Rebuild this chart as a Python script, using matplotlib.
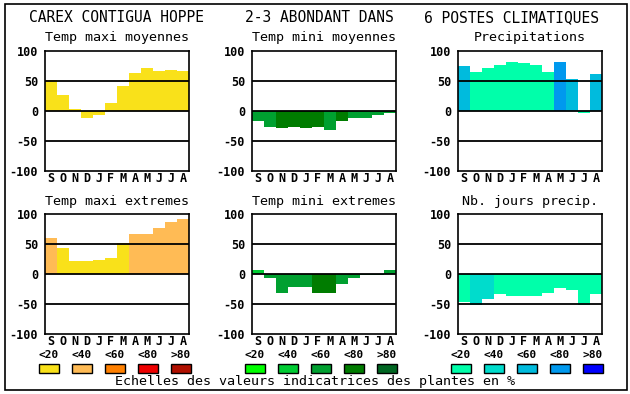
import numpy as np
import matplotlib
matplotlib.use('Agg')
import matplotlib.pyplot as plt
from matplotlib.patches import Rectangle

# Mois (septembre -> aout)
mois = ['S', 'O', 'N', 'D', 'J', 'F', 'M', 'A', 'M', 'J', 'J', 'A']

# Valeurs indicatrices par mois (echelle -100..100)
tmax_moy = [51, 27, 4, -11, -6, 13, 42, 63, 71, 67, 69, 67]
tmin_moy = [-16, -26, -28, -26, -28, -26, -31, -16, -12, -12, -6, -4]
precip = [75, 65, 72, 77, 82, 80, 77, 65, 82, 53, -3, 62]
tmax_ext = [60, 44, 21, 21, 24, 27, 52, 67, 66, 77, 86, 91]
tmin_ext = [7, -7, -31, -21, -21, -31, -32, -17, -6, -2, -1, 6]
nb_jours = [-46, -52, -42, -34, -36, -36, -37, -32, -24, -26, -52, -34]

# Classe de % de plantes (0:<20 1:<40 2:<60 3:<80 4:>80)
cl_tmax_moy = [0, 0, 0, 0, 0, 0, 0, 0, 0, 0, 0, 0]
cl_tmin_moy = [2, 2, 3, 3, 3, 3, 2, 3, 2, 2, 2, 2]
cl_precip = [2, 0, 0, 0, 0, 0, 0, 0, 3, 2, 0, 2]
cl_tmax_ext = [1, 0, 0, 0, 0, 0, 0, 1, 1, 1, 1, 1]
cl_tmin_ext = [1, 2, 2, 2, 2, 3, 3, 2, 2, 2, 2, 2]
cl_nb_jours = [0, 1, 1, 0, 0, 0, 0, 0, 0, 0, 0, 0]

classes = ['<20', '<40', '<60', '<80', '>80']
pal_temp_max = ['#f9e11a', '#ffbb55', '#ff8000', '#ee0000', '#b01000']
pal_temp_min = ['#00ff00', '#00cc33', '#00a030', '#007c00', '#006622']
pal_eau = ['#00ffaa', '#00dccc', '#00bbdd', '#0099ee', '#0000ff']

entetes = ['CAREX CONTIGUA HOPPE', '2-3 ABONDANT DANS', '6 POSTES CLIMATIQUES']

W, H = 630, 394
fig = plt.figure(figsize=(W / 100, H / 100), dpi=100)
mono = 'DejaVu Sans Mono'

def fx(px):
    return px / W

def fy(py):
    return 1 - py / H

# cadre general
fig.patches.append(Rectangle((fx(5), fy(390)), fx(622), 386 / H, transform=fig.transFigure,
                             fill=False, edgecolor='black', linewidth=1.2))

panneaux = [
    (45, 51, 'Temp maxi moyennes', tmax_moy, cl_tmax_moy, pal_temp_max),
    (252, 51, 'Temp mini moyennes', tmin_moy, cl_tmin_moy, pal_temp_min),
    (458, 51, 'Precipitations', precip, cl_precip, pal_eau),
    (45, 214, 'Temp maxi extremes', tmax_ext, cl_tmax_ext, pal_temp_max),
    (252, 214, 'Temp mini extremes', tmin_ext, cl_tmin_ext, pal_temp_min),
    (458, 214, 'Nb. jours precip.', nb_jours, cl_nb_jours, pal_eau),
]

x = np.arange(len(mois))
for left, top, titre, vals, cls, pal in panneaux:
    ax = fig.add_axes([fx(left), fy(top + 120), fx(144), 120 / H])
    ax.bar(x, vals, width=1.0, color=[pal[c] for c in cls], linewidth=0, zorder=1)
    for v in (-50, 0, 50):
        ax.axhline(v, color='black', linewidth=1.3, zorder=2)
    ax.set_xlim(-0.5, 11.5)
    ax.set_ylim(-100, 100)
    ax.set_yticks([-100, -50, 0, 50, 100])
    ax.set_yticklabels(['-100', '-50', '0', '50', '100'], family=mono,
                       fontweight='bold', fontsize=8.5)
    ax.set_xticks(x)
    ax.set_xticklabels(mois, family=mono, fontweight='bold', fontsize=8.5)
    ax.tick_params(axis='y', length=0, pad=5)
    ax.tick_params(axis='x', length=0, pad=1)
    for s in ax.spines.values():
        s.set_linewidth(1.2)
    fig.text(fx(left + 72), fy(top - 13), titre, family=mono, fontsize=9.6,
             ha='center', va='center')

# entetes de colonnes
for cx, txt in zip([116, 319, 512], entetes):
    fig.text(fx(cx), fy(18), txt, family=mono, fontsize=10.5, ha='center', va='center')

# legendes des classes
for x0, pal in [(39, pal_temp_max), (245, pal_temp_min), (451, pal_eau)]:
    for i, (lab, col) in enumerate(zip(classes, pal)):
        bx = x0 + i * 33
        fig.text(fx(bx + 10), fy(355), lab, family=mono, fontweight='bold',
                 fontsize=8.0, ha='center', va='center')
        fig.patches.append(Rectangle((fx(bx), fy(373)), fx(20), 9 / H,
                                     transform=fig.transFigure, facecolor=col,
                                     edgecolor='black', linewidth=1))

fig.text(fx(315), fy(382), 'Echelles des valeurs indicatrices des plantes en %',
         family=mono, fontsize=9.6, ha='center', va='center')

fig.savefig('out.png', dpi=100)
